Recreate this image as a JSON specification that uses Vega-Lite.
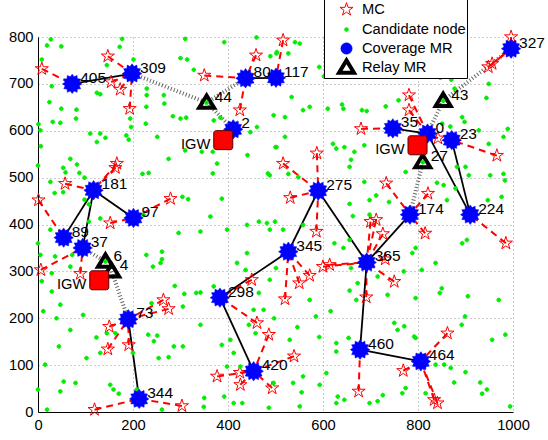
{
  "$schema": "https://vega.github.io/schema/vega-lite/v6.json",
  "width": 475,
  "height": 375,
  "autosize": "none",
  "padding": {"left": 38, "top": 37, "right": 35, "bottom": 28},
  "background": "white",
  "config": {
    "view": {"stroke": null},
    "font": "Liberation Sans",
    "axis": {
      "domainColor": "black", "domainWidth": 1, "ticks": false,
      "labelFontSize": 14.7, "labelColor": "black", "labelFont": "Liberation Sans",
      "labelPadding": 5, "grid": true, "gridColor": "#999999", "gridDash": [1, 3],
      "gridOpacity": 1, "labelFlush": false, "labelOverlap": false, "title": null
    },
    "legend": {
      "padding": 1, "symbolOffset": 10, "labelOffset": 4, "rowPadding": -5,
      "symbolSize": 484, "symbolStrokeWidth": 1,
      "strokeColor": "black", "fillColor": "white", "labelFontSize": 14.7,
      "labelFont": "Liberation Sans", "labelColor": "black", "labelLimit": 300
    }
  },
  "datasets": {
    "nodes": [
      {"x":72,"y":700,"kind":"Coverage MR","label":"405"},
      {"x":198,"y":722,"kind":"Coverage MR","label":"309"},
      {"x":437,"y":712,"kind":"Coverage MR","label":"80"},
      {"x":501,"y":713,"kind":"Coverage MR","label":"117"},
      {"x":411,"y":603,"kind":"Coverage MR","label":"2"},
      {"x":117,"y":473,"kind":"Coverage MR","label":"181"},
      {"x":201,"y":414,"kind":"Coverage MR","label":"97"},
      {"x":54,"y":372,"kind":"Coverage MR","label":"89"},
      {"x":94,"y":350,"kind":"Coverage MR","label":"37"},
      {"x":190,"y":198,"kind":"Coverage MR","label":"73"},
      {"x":213,"y":28,"kind":"Coverage MR","label":"344"},
      {"x":383,"y":244,"kind":"Coverage MR","label":"298"},
      {"x":454,"y":87,"kind":"Coverage MR","label":"420"},
      {"x":527,"y":342,"kind":"Coverage MR","label":"345"},
      {"x":590,"y":472,"kind":"Coverage MR","label":"275"},
      {"x":692,"y":319,"kind":"Coverage MR","label":"365"},
      {"x":678,"y":133,"kind":"Coverage MR","label":"460"},
      {"x":806,"y":108,"kind":"Coverage MR","label":"464"},
      {"x":783,"y":421,"kind":"Coverage MR","label":"174"},
      {"x":910,"y":421,"kind":"Coverage MR","label":"224"},
      {"x":747,"y":605,"kind":"Coverage MR","label":"35"},
      {"x":820,"y":594,"kind":"Coverage MR","label":"0"},
      {"x":871,"y":580,"kind":"Coverage MR","label":"23"},
      {"x":996,"y":775,"kind":"Coverage MR","label":"327"},
      {"x":355,"y":660,"kind":"Relay MR","label":"44"},
      {"x":853,"y":664,"kind":"Relay MR","label":"43"},
      {"x":810,"y":533,"kind":"Relay MR","label":"27"},
      {"x":142,"y":321,"kind":"Relay MR","label":"6"},
      {"x":155,"y":300,"kind":"Relay MR","label":"4"},
      {"x":129,"y":281,"kind":"IGW","label":"IGW"},
      {"x":390,"y":580,"kind":"IGW","label":"IGW"},
      {"x":799,"y":569,"kind":"IGW","label":"IGW"},
      {"x":8,"y":732,"kind":"MC"},{"x":147,"y":759,"kind":"MC"},{"x":154,"y":704,"kind":"MC"},{"x":173,"y":688,"kind":"MC"},
      {"x":193,"y":647,"kind":"MC"},{"x":350,"y":718,"kind":"MC"},{"x":459,"y":761,"kind":"MC"},{"x":425,"y":644,"kind":"MC"},
      {"x":516,"y":793,"kind":"MC"},{"x":996,"y":800,"kind":"MC"},{"x":948,"y":736,"kind":"MC"},{"x":956,"y":743,"kind":"MC"},
      {"x":781,"y":676,"kind":"MC"},{"x":781,"y":644,"kind":"MC"},{"x":680,"y":604,"kind":"MC"},{"x":842,"y":584,"kind":"MC"},
      {"x":966,"y":547,"kind":"MC"},{"x":516,"y":530,"kind":"MC"},{"x":587,"y":552,"kind":"MC"},{"x":531,"y":457,"kind":"MC"},
      {"x":733,"y":488,"kind":"MC"},{"x":821,"y":466,"kind":"MC"},{"x":166,"y":530,"kind":"MC"},{"x":163,"y":521,"kind":"MC"},
      {"x":57,"y":487,"kind":"MC"},{"x":1,"y":452,"kind":"MC"},{"x":279,"y":455,"kind":"MC"},{"x":152,"y":403,"kind":"MC"},
      {"x":6,"y":303,"kind":"MC"},{"x":89,"y":295,"kind":"MC"},{"x":264,"y":239,"kind":"MC"},{"x":275,"y":220,"kind":"MC"},
      {"x":150,"y":182,"kind":"MC"},{"x":147,"y":134,"kind":"MC"},{"x":191,"y":143,"kind":"MC"},{"x":119,"y":5,"kind":"MC"},
      {"x":303,"y":13,"kind":"MC"},{"x":377,"y":76,"kind":"MC"},{"x":425,"y":84,"kind":"MC"},{"x":426,"y":58,"kind":"MC"},
      {"x":461,"y":190,"kind":"MC"},{"x":486,"y":165,"kind":"MC"},{"x":493,"y":51,"kind":"MC"},{"x":539,"y":119,"kind":"MC"},
      {"x":450,"y":282,"kind":"MC"},{"x":520,"y":241,"kind":"MC"},{"x":550,"y":275,"kind":"MC"},{"x":572,"y":291,"kind":"MC"},
      {"x":600,"y":310,"kind":"MC"},{"x":614,"y":314,"kind":"MC"},{"x":586,"y":385,"kind":"MC"},{"x":700,"y":406,"kind":"MC"},
      {"x":712,"y":410,"kind":"MC"},{"x":726,"y":380,"kind":"MC"},{"x":731,"y":326,"kind":"MC"},{"x":750,"y":278,"kind":"MC"},
      {"x":691,"y":245,"kind":"MC"},{"x":815,"y":381,"kind":"MC"},{"x":985,"y":360,"kind":"MC"},{"x":862,"y":168,"kind":"MC"},
      {"x":769,"y":88,"kind":"MC"},{"x":834,"y":26,"kind":"MC"},{"x":841,"y":19,"kind":"MC"},{"x":675,"y":44,"kind":"MC"},
      {"x":27,"y":795,"kind":"Candidate node"},{"x":19,"y":782,"kind":"Candidate node"},{"x":49,"y":780,"kind":"Candidate node"},{"x":177,"y":796,"kind":"Candidate node"},
      {"x":172,"y":779,"kind":"Candidate node"},{"x":201,"y":752,"kind":"Candidate node"},{"x":310,"y":796,"kind":"Candidate node"},{"x":392,"y":789,"kind":"Candidate node"},
      {"x":460,"y":799,"kind":"Candidate node"},{"x":503,"y":768,"kind":"Candidate node"},{"x":489,"y":759,"kind":"Candidate node"},{"x":8,"y":752,"kind":"Candidate node"},
      {"x":300,"y":755,"kind":"Candidate node"},{"x":314,"y":752,"kind":"Candidate node"},{"x":145,"y":740,"kind":"Candidate node"},{"x":328,"y":730,"kind":"Candidate node"},
      {"x":29,"y":695,"kind":"Candidate node"},{"x":124,"y":681,"kind":"Candidate node"},{"x":131,"y":678,"kind":"Candidate node"},{"x":229,"y":690,"kind":"Candidate node"},
      {"x":229,"y":676,"kind":"Candidate node"},{"x":265,"y":676,"kind":"Candidate node"},{"x":266,"y":658,"kind":"Candidate node"},{"x":24,"y":661,"kind":"Candidate node"},
      {"x":49,"y":647,"kind":"Candidate node"},{"x":81,"y":645,"kind":"Candidate node"},{"x":80,"y":626,"kind":"Candidate node"},{"x":1,"y":614,"kind":"Candidate node"},
      {"x":5,"y":601,"kind":"Candidate node"},{"x":31,"y":619,"kind":"Candidate node"},{"x":47,"y":617,"kind":"Candidate node"},{"x":194,"y":626,"kind":"Candidate node"},
      {"x":196,"y":608,"kind":"Candidate node"},{"x":228,"y":651,"kind":"Candidate node"},{"x":227,"y":615,"kind":"Candidate node"},{"x":284,"y":631,"kind":"Candidate node"},
      {"x":300,"y":626,"kind":"Candidate node"},{"x":312,"y":628,"kind":"Candidate node"},{"x":355,"y":660,"kind":"Candidate node"},{"x":370,"y":622,"kind":"Candidate node"},
      {"x":384,"y":628,"kind":"Candidate node"},{"x":110,"y":594,"kind":"Candidate node"},{"x":131,"y":594,"kind":"Candidate node"},{"x":124,"y":576,"kind":"Candidate node"},
      {"x":142,"y":585,"kind":"Candidate node"},{"x":186,"y":590,"kind":"Candidate node"},{"x":191,"y":581,"kind":"Candidate node"},{"x":251,"y":587,"kind":"Candidate node"},
      {"x":310,"y":558,"kind":"Candidate node"},{"x":345,"y":555,"kind":"Candidate node"},{"x":368,"y":555,"kind":"Candidate node"},{"x":377,"y":530,"kind":"Candidate node"},
      {"x":441,"y":548,"kind":"Candidate node"},{"x":461,"y":608,"kind":"Candidate node"},{"x":447,"y":597,"kind":"Candidate node"},{"x":496,"y":633,"kind":"Candidate node"},
      {"x":275,"y":540,"kind":"Candidate node"},{"x":68,"y":540,"kind":"Candidate node"},{"x":82,"y":528,"kind":"Candidate node"},{"x":53,"y":521,"kind":"Candidate node"},
      {"x":58,"y":511,"kind":"Candidate node"},{"x":6,"y":567,"kind":"Candidate node"},{"x":0,"y":526,"kind":"Candidate node"},{"x":26,"y":491,"kind":"Candidate node"},
      {"x":35,"y":467,"kind":"Candidate node"},{"x":53,"y":469,"kind":"Candidate node"},{"x":87,"y":510,"kind":"Candidate node"},{"x":98,"y":500,"kind":"Candidate node"},
      {"x":220,"y":508,"kind":"Candidate node"},{"x":233,"y":510,"kind":"Candidate node"},{"x":304,"y":459,"kind":"Candidate node"},{"x":316,"y":454,"kind":"Candidate node"},
      {"x":387,"y":455,"kind":"Candidate node"},{"x":484,"y":509,"kind":"Candidate node"},{"x":500,"y":565,"kind":"Candidate node"},{"x":98,"y":453,"kind":"Candidate node"},
      {"x":107,"y":443,"kind":"Candidate node"},{"x":368,"y":509,"kind":"Candidate node"},
      {"x":541,"y":789,"kind":"Candidate node"},{"x":551,"y":786,"kind":"Candidate node"},{"x":527,"y":765,"kind":"Candidate node"},{"x":502,"y":765,"kind":"Candidate node"},
      {"x":592,"y":736,"kind":"Candidate node"},{"x":602,"y":716,"kind":"Candidate node"},{"x":652,"y":718,"kind":"Candidate node"},{"x":534,"y":672,"kind":"Candidate node"},
      {"x":558,"y":644,"kind":"Candidate node"},{"x":572,"y":651,"kind":"Candidate node"},{"x":520,"y":629,"kind":"Candidate node"},{"x":610,"y":647,"kind":"Candidate node"},
      {"x":640,"y":656,"kind":"Candidate node"},{"x":643,"y":647,"kind":"Candidate node"},{"x":682,"y":644,"kind":"Candidate node"},{"x":692,"y":642,"kind":"Candidate node"},
      {"x":732,"y":652,"kind":"Candidate node"},{"x":759,"y":665,"kind":"Candidate node"},{"x":847,"y":713,"kind":"Candidate node"},{"x":870,"y":709,"kind":"Candidate node"},
      {"x":877,"y":690,"kind":"Candidate node"},{"x":944,"y":670,"kind":"Candidate node"},{"x":949,"y":700,"kind":"Candidate node"},{"x":851,"y":615,"kind":"Candidate node"},
      {"x":868,"y":609,"kind":"Candidate node"},{"x":898,"y":619,"kind":"Candidate node"},{"x":893,"y":629,"kind":"Candidate node"},{"x":928,"y":601,"kind":"Candidate node"},
      {"x":989,"y":604,"kind":"Candidate node"},{"x":980,"y":587,"kind":"Candidate node"},{"x":949,"y":572,"kind":"Candidate node"},{"x":520,"y":587,"kind":"Candidate node"},
      {"x":502,"y":565,"kind":"Candidate node"},{"x":621,"y":572,"kind":"Candidate node"},{"x":628,"y":562,"kind":"Candidate node"},{"x":645,"y":565,"kind":"Candidate node"},
      {"x":666,"y":555,"kind":"Candidate node"},{"x":687,"y":569,"kind":"Candidate node"},{"x":659,"y":538,"kind":"Candidate node"},{"x":656,"y":523,"kind":"Candidate node"},
      {"x":882,"y":523,"kind":"Candidate node"},{"x":900,"y":523,"kind":"Candidate node"},{"x":907,"y":505,"kind":"Candidate node"},{"x":952,"y":505,"kind":"Candidate node"},
      {"x":980,"y":508,"kind":"Candidate node"},{"x":983,"y":494,"kind":"Candidate node"},{"x":527,"y":508,"kind":"Candidate node"},{"x":548,"y":501,"kind":"Candidate node"},
      {"x":687,"y":491,"kind":"Candidate node"},{"x":712,"y":462,"kind":"Candidate node"},{"x":698,"y":452,"kind":"Candidate node"},{"x":774,"y":512,"kind":"Candidate node"},
      {"x":840,"y":489,"kind":"Candidate node"},{"x":854,"y":484,"kind":"Candidate node"},{"x":861,"y":452,"kind":"Candidate node"},{"x":879,"y":477,"kind":"Candidate node"},
      {"x":947,"y":452,"kind":"Candidate node"},{"x":976,"y":459,"kind":"Candidate node"},{"x":656,"y":444,"kind":"Candidate node"},{"x":739,"y":448,"kind":"Candidate node"},
      {"x":488,"y":505,"kind":"Candidate node"},{"x":853,"y":664,"kind":"Candidate node"},{"x":810,"y":533,"kind":"Candidate node"},{"x":142,"y":321,"kind":"Candidate node"},
      {"x":0,"y":360,"kind":"Candidate node"},{"x":5,"y":335,"kind":"Candidate node"},{"x":8,"y":279,"kind":"Candidate node"},{"x":26,"y":389,"kind":"Candidate node"},
      {"x":36,"y":332,"kind":"Candidate node"},{"x":29,"y":296,"kind":"Candidate node"},{"x":72,"y":335,"kind":"Candidate node"},{"x":68,"y":310,"kind":"Candidate node"},
      {"x":107,"y":406,"kind":"Candidate node"},{"x":131,"y":413,"kind":"Candidate node"},{"x":222,"y":421,"kind":"Candidate node"},{"x":228,"y":335,"kind":"Candidate node"},
      {"x":242,"y":310,"kind":"Candidate node"},{"x":258,"y":318,"kind":"Candidate node"},{"x":261,"y":342,"kind":"Candidate node"},{"x":261,"y":326,"kind":"Candidate node"},
      {"x":296,"y":382,"kind":"Candidate node"},{"x":342,"y":385,"kind":"Candidate node"},{"x":363,"y":417,"kind":"Candidate node"},{"x":398,"y":389,"kind":"Candidate node"},
      {"x":288,"y":269,"kind":"Candidate node"},{"x":308,"y":252,"kind":"Candidate node"},{"x":333,"y":254,"kind":"Candidate node"},{"x":342,"y":255,"kind":"Candidate node"},
      {"x":239,"y":232,"kind":"Candidate node"},{"x":305,"y":225,"kind":"Candidate node"},{"x":342,"y":186,"kind":"Candidate node"},{"x":11,"y":215,"kind":"Candidate node"},
      {"x":39,"y":200,"kind":"Candidate node"},{"x":29,"y":257,"kind":"Candidate node"},{"x":47,"y":229,"kind":"Candidate node"},{"x":95,"y":207,"kind":"Candidate node"},
      {"x":68,"y":175,"kind":"Candidate node"},{"x":123,"y":159,"kind":"Candidate node"},{"x":145,"y":168,"kind":"Candidate node"},{"x":163,"y":168,"kind":"Candidate node"},
      {"x":232,"y":165,"kind":"Candidate node"},{"x":251,"y":163,"kind":"Candidate node"},{"x":244,"y":151,"kind":"Candidate node"},{"x":44,"y":140,"kind":"Candidate node"},
      {"x":102,"y":115,"kind":"Candidate node"},{"x":131,"y":126,"kind":"Candidate node"},{"x":200,"y":126,"kind":"Candidate node"},{"x":286,"y":140,"kind":"Candidate node"},
      {"x":305,"y":140,"kind":"Candidate node"},{"x":254,"y":115,"kind":"Candidate node"},{"x":275,"y":117,"kind":"Candidate node"},{"x":15,"y":101,"kind":"Candidate node"},
      {"x":54,"y":65,"kind":"Candidate node"},{"x":47,"y":44,"kind":"Candidate node"},{"x":79,"y":62,"kind":"Candidate node"},{"x":152,"y":58,"kind":"Candidate node"},
      {"x":159,"y":48,"kind":"Candidate node"},{"x":170,"y":39,"kind":"Candidate node"},{"x":208,"y":48,"kind":"Candidate node"},{"x":0,"y":48,"kind":"Candidate node"},
      {"x":19,"y":5,"kind":"Candidate node"},{"x":261,"y":5,"kind":"Candidate node"},{"x":349,"y":11,"kind":"Candidate node"},{"x":350,"y":30,"kind":"Candidate node"},
      {"x":392,"y":33,"kind":"Candidate node"},{"x":370,"y":268,"kind":"Candidate node"},{"x":419,"y":318,"kind":"Candidate node"},{"x":437,"y":303,"kind":"Candidate node"},
      {"x":440,"y":339,"kind":"Candidate node"},{"x":387,"y":143,"kind":"Candidate node"},{"x":405,"y":154,"kind":"Candidate node"},{"x":412,"y":126,"kind":"Candidate node"},
      {"x":398,"y":97,"kind":"Candidate node"},{"x":426,"y":97,"kind":"Candidate node"},{"x":440,"y":399,"kind":"Candidate node"},{"x":465,"y":406,"kind":"Candidate node"},
      {"x":482,"y":403,"kind":"Candidate node"},{"x":488,"y":389,"kind":"Candidate node"},{"x":465,"y":254,"kind":"Candidate node"},{"x":488,"y":282,"kind":"Candidate node"},
      {"x":454,"y":218,"kind":"Candidate node"},{"x":475,"y":218,"kind":"Candidate node"},{"x":444,"y":186,"kind":"Candidate node"},{"x":458,"y":168,"kind":"Candidate node"},
      {"x":412,"y":19,"kind":"Candidate node"},{"x":430,"y":19,"kind":"Candidate node"},{"x":486,"y":9,"kind":"Candidate node"},{"x":496,"y":62,"kind":"Candidate node"},
      {"x":499,"y":406,"kind":"Candidate node"},{"x":516,"y":389,"kind":"Candidate node"},{"x":558,"y":399,"kind":"Candidate node"},{"x":501,"y":307,"kind":"Candidate node"},
      {"x":572,"y":239,"kind":"Candidate node"},{"x":497,"y":200,"kind":"Candidate node"},{"x":530,"y":154,"kind":"Candidate node"},{"x":546,"y":181,"kind":"Candidate node"},
      {"x":585,"y":204,"kind":"Candidate node"},{"x":592,"y":160,"kind":"Candidate node"},{"x":624,"y":360,"kind":"Candidate node"},{"x":656,"y":367,"kind":"Candidate node"},
      {"x":643,"y":350,"kind":"Candidate node"},{"x":616,"y":215,"kind":"Candidate node"},{"x":656,"y":259,"kind":"Candidate node"},{"x":673,"y":275,"kind":"Candidate node"},
      {"x":670,"y":239,"kind":"Candidate node"},{"x":659,"y":307,"kind":"Candidate node"},{"x":715,"y":289,"kind":"Candidate node"},{"x":736,"y":250,"kind":"Candidate node"},
      {"x":698,"y":421,"kind":"Candidate node"},{"x":663,"y":418,"kind":"Candidate node"},{"x":750,"y":190,"kind":"Candidate node"},{"x":757,"y":175,"kind":"Candidate node"},
      {"x":771,"y":183,"kind":"Candidate node"},{"x":770,"y":300,"kind":"Candidate node"},{"x":788,"y":339,"kind":"Candidate node"},{"x":795,"y":350,"kind":"Candidate node"},
      {"x":808,"y":303,"kind":"Candidate node"},{"x":795,"y":243,"kind":"Candidate node"},{"x":837,"y":318,"kind":"Candidate node"},{"x":850,"y":264,"kind":"Candidate node"},
      {"x":846,"y":254,"kind":"Candidate node"},{"x":893,"y":360,"kind":"Candidate node"},{"x":903,"y":367,"kind":"Candidate node"},{"x":905,"y":247,"kind":"Candidate node"},
      {"x":899,"y":204,"kind":"Candidate node"},{"x":892,"y":186,"kind":"Candidate node"},{"x":970,"y":239,"kind":"Candidate node"},{"x":984,"y":165,"kind":"Candidate node"},
      {"x":956,"y":154,"kind":"Candidate node"},{"x":795,"y":158,"kind":"Candidate node"},{"x":792,"y":161,"kind":"Candidate node"},{"x":654,"y":158,"kind":"Candidate node"},
      {"x":628,"y":147,"kind":"Candidate node"},{"x":628,"y":129,"kind":"Candidate node"},{"x":607,"y":83,"kind":"Candidate node"},{"x":558,"y":76,"kind":"Candidate node"},
      {"x":537,"y":62,"kind":"Candidate node"},{"x":555,"y":42,"kind":"Candidate node"},{"x":593,"y":58,"kind":"Candidate node"},{"x":631,"y":33,"kind":"Candidate node"},
      {"x":628,"y":19,"kind":"Candidate node"},{"x":645,"y":26,"kind":"Candidate node"},{"x":698,"y":19,"kind":"Candidate node"},{"x":715,"y":23,"kind":"Candidate node"},
      {"x":726,"y":36,"kind":"Candidate node"},{"x":767,"y":40,"kind":"Candidate node"},{"x":774,"y":51,"kind":"Candidate node"},{"x":876,"y":63,"kind":"Candidate node"},
      {"x":900,"y":85,"kind":"Candidate node"},{"x":931,"y":63,"kind":"Candidate node"},{"x":935,"y":39,"kind":"Candidate node"},{"x":945,"y":48,"kind":"Candidate node"},
      {"x":994,"y":12,"kind":"Candidate node"},{"x":837,"y":101,"kind":"Candidate node"},{"x":855,"y":101,"kind":"Candidate node"},{"x":869,"y":94,"kind":"Candidate node"},
      {"x":551,"y":12,"kind":"Candidate node"},{"x":816,"y":40,"kind":"Candidate node"}
    ],
    "links": [
      {"x":72,"y":700,"x2":198,"y2":722,"kind":"backbone"},
      {"x":437,"y":712,"x2":501,"y2":713,"kind":"backbone"},
      {"x":117,"y":473,"x2":54,"y2":372,"kind":"backbone"},
      {"x":117,"y":473,"x2":94,"y2":350,"kind":"backbone"},
      {"x":117,"y":473,"x2":201,"y2":414,"kind":"backbone"},
      {"x":747,"y":605,"x2":820,"y2":594,"kind":"backbone"},
      {"x":820,"y":594,"x2":910,"y2":421,"kind":"backbone"},
      {"x":871,"y":580,"x2":910,"y2":421,"kind":"backbone"},
      {"x":590,"y":472,"x2":527,"y2":342,"kind":"backbone"},
      {"x":590,"y":472,"x2":692,"y2":319,"kind":"backbone"},
      {"x":527,"y":342,"x2":383,"y2":244,"kind":"backbone"},
      {"x":692,"y":319,"x2":783,"y2":421,"kind":"backbone"},
      {"x":692,"y":319,"x2":678,"y2":133,"kind":"backbone"},
      {"x":678,"y":133,"x2":806,"y2":108,"kind":"backbone"},
      {"x":383,"y":244,"x2":454,"y2":87,"kind":"backbone"},
      {"x":190,"y":198,"x2":213,"y2":28,"kind":"backbone"},
      {"x":198,"y":722,"x2":355,"y2":660,"kind":"relay"},
      {"x":355,"y":660,"x2":437,"y2":712,"kind":"relay"},
      {"x":355,"y":660,"x2":411,"y2":603,"kind":"relay"},
      {"x":996,"y":775,"x2":853,"y2":664,"kind":"relay"},
      {"x":853,"y":664,"x2":820,"y2":594,"kind":"relay"},
      {"x":810,"y":533,"x2":783,"y2":421,"kind":"relay"},
      {"x":94,"y":350,"x2":142,"y2":321,"kind":"relay"},
      {"x":155,"y":300,"x2":190,"y2":198,"kind":"relay"},
      {"x":8,"y":732,"x2":72,"y2":700,"kind":"access"},
      {"x":147,"y":759,"x2":198,"y2":722,"kind":"access"},
      {"x":154,"y":704,"x2":198,"y2":722,"kind":"access"},
      {"x":173,"y":688,"x2":198,"y2":722,"kind":"access"},
      {"x":193,"y":647,"x2":198,"y2":722,"kind":"access"},
      {"x":350,"y":718,"x2":437,"y2":712,"kind":"access"},
      {"x":459,"y":761,"x2":437,"y2":712,"kind":"access"},
      {"x":425,"y":644,"x2":437,"y2":712,"kind":"access"},
      {"x":516,"y":793,"x2":501,"y2":713,"kind":"access"},
      {"x":996,"y":800,"x2":996,"y2":775,"kind":"access"},
      {"x":948,"y":736,"x2":996,"y2":775,"kind":"access"},
      {"x":956,"y":743,"x2":996,"y2":775,"kind":"access"},
      {"x":781,"y":676,"x2":820,"y2":594,"kind":"access"},
      {"x":781,"y":644,"x2":820,"y2":594,"kind":"access"},
      {"x":680,"y":604,"x2":747,"y2":605,"kind":"access"},
      {"x":842,"y":584,"x2":820,"y2":594,"kind":"access"},
      {"x":966,"y":547,"x2":871,"y2":580,"kind":"access"},
      {"x":516,"y":530,"x2":590,"y2":472,"kind":"access"},
      {"x":587,"y":552,"x2":590,"y2":472,"kind":"access"},
      {"x":531,"y":457,"x2":590,"y2":472,"kind":"access"},
      {"x":733,"y":488,"x2":783,"y2":421,"kind":"access"},
      {"x":821,"y":466,"x2":783,"y2":421,"kind":"access"},
      {"x":166,"y":530,"x2":117,"y2":473,"kind":"access"},
      {"x":163,"y":521,"x2":117,"y2":473,"kind":"access"},
      {"x":57,"y":487,"x2":117,"y2":473,"kind":"access"},
      {"x":1,"y":452,"x2":54,"y2":372,"kind":"access"},
      {"x":279,"y":455,"x2":201,"y2":414,"kind":"access"},
      {"x":152,"y":403,"x2":201,"y2":414,"kind":"access"},
      {"x":6,"y":303,"x2":94,"y2":350,"kind":"access"},
      {"x":89,"y":295,"x2":94,"y2":350,"kind":"access"},
      {"x":264,"y":239,"x2":190,"y2":198,"kind":"access"},
      {"x":275,"y":220,"x2":190,"y2":198,"kind":"access"},
      {"x":150,"y":182,"x2":190,"y2":198,"kind":"access"},
      {"x":147,"y":134,"x2":190,"y2":198,"kind":"access"},
      {"x":191,"y":143,"x2":190,"y2":198,"kind":"access"},
      {"x":119,"y":5,"x2":213,"y2":28,"kind":"access"},
      {"x":303,"y":13,"x2":213,"y2":28,"kind":"access"},
      {"x":377,"y":76,"x2":454,"y2":87,"kind":"access"},
      {"x":425,"y":84,"x2":454,"y2":87,"kind":"access"},
      {"x":426,"y":58,"x2":454,"y2":87,"kind":"access"},
      {"x":461,"y":190,"x2":383,"y2":244,"kind":"access"},
      {"x":486,"y":165,"x2":454,"y2":87,"kind":"access"},
      {"x":493,"y":51,"x2":454,"y2":87,"kind":"access"},
      {"x":539,"y":119,"x2":454,"y2":87,"kind":"access"},
      {"x":450,"y":282,"x2":383,"y2":244,"kind":"access"},
      {"x":520,"y":241,"x2":527,"y2":342,"kind":"access"},
      {"x":550,"y":275,"x2":527,"y2":342,"kind":"access"},
      {"x":572,"y":291,"x2":527,"y2":342,"kind":"access"},
      {"x":600,"y":310,"x2":692,"y2":319,"kind":"access"},
      {"x":614,"y":314,"x2":692,"y2":319,"kind":"access"},
      {"x":586,"y":385,"x2":590,"y2":472,"kind":"access"},
      {"x":700,"y":406,"x2":692,"y2":319,"kind":"access"},
      {"x":712,"y":410,"x2":692,"y2":319,"kind":"access"},
      {"x":726,"y":380,"x2":692,"y2":319,"kind":"access"},
      {"x":731,"y":326,"x2":692,"y2":319,"kind":"access"},
      {"x":750,"y":278,"x2":692,"y2":319,"kind":"access"},
      {"x":691,"y":245,"x2":692,"y2":319,"kind":"access"},
      {"x":815,"y":381,"x2":783,"y2":421,"kind":"access"},
      {"x":985,"y":360,"x2":910,"y2":421,"kind":"access"},
      {"x":862,"y":168,"x2":806,"y2":108,"kind":"access"},
      {"x":769,"y":88,"x2":806,"y2":108,"kind":"access"},
      {"x":834,"y":26,"x2":806,"y2":108,"kind":"access"},
      {"x":841,"y":19,"x2":806,"y2":108,"kind":"access"},
      {"x":675,"y":44,"x2":678,"y2":133,"kind":"access"}
    ]
  },
  "layer": [
    {
      "data": {"name": "links"},
      "transform": [{"filter": "datum.kind === 'relay'"}],
      "mark": {"type": "rule", "color": "#666666", "strokeWidth": 4, "strokeDash": [1, 2.2]},
      "encoding": {
        "x": {"field": "x", "type": "quantitative", "scale": {"domain": [0, 1000], "nice": false}, "axis": {"values": [0, 200, 400, 600, 800, 1000], "format": "d", "title": null}},
        "y": {"field": "y", "type": "quantitative", "scale": {"domain": [0, 800], "nice": false}, "axis": {"values": [0, 100, 200, 300, 400, 500, 600, 700, 800], "format": "d", "title": null}},
        "x2": {"field": "x2"},
        "y2": {"field": "y2"}
      }
    },
    {
      "data": {"name": "links"},
      "transform": [{"filter": "datum.kind === 'access'"}],
      "mark": {"type": "rule", "color": "#ff0000", "strokeWidth": 2, "strokeDash": [7, 5]},
      "encoding": {
        "x": {"field": "x", "type": "quantitative", "scale": {"domain": [0, 1000], "nice": false}},
        "y": {"field": "y", "type": "quantitative", "scale": {"domain": [0, 800], "nice": false}},
        "x2": {"field": "x2"},
        "y2": {"field": "y2"}
      }
    },
    {
      "data": {"name": "links"},
      "transform": [{"filter": "datum.kind === 'backbone'"}],
      "mark": {"type": "rule", "color": "#000000", "strokeWidth": 1.8},
      "encoding": {
        "x": {"field": "x", "type": "quantitative", "scale": {"domain": [0, 1000], "nice": false}},
        "y": {"field": "y", "type": "quantitative", "scale": {"domain": [0, 800], "nice": false}},
        "x2": {"field": "x2"},
        "y2": {"field": "y2"}
      }
    },
    {
      "data": {"name": "nodes"},
      "transform": [{"filter": "datum.kind !== 'IGW'"}],
      "mark": {"type": "point", "opacity": 1, "size": 484, "strokeWidth": 1},
      "encoding": {
        "x": {"field": "x", "type": "quantitative", "scale": {"domain": [0, 1000], "nice": false}},
        "y": {"field": "y", "type": "quantitative", "scale": {"domain": [0, 800], "nice": false}},
        "shape": {"field": "kind", "type": "nominal",
          "scale": {"domain": ["MC", "Candidate node", "Coverage MR", "Relay MR"], "range": [
            "M0,-0.626L0.1405,-0.1934L0.5953,-0.1934L0.2272,0.0739L0.3681,0.5064L0,0.2391L-0.3681,0.5064L-0.2272,0.0739L-0.5953,-0.1934L-0.1405,-0.1934Z",
            "M0.17,0A0.17,0.17 0 1 1 -0.17,0A0.17,0.17 0 1 1 0.17,0Z",
            "M0.5,0A0.5,0.5 0 1 1 -0.5,0A0.5,0.5 0 1 1 0.5,0Z",
            "M0,-1L1,0.65L-1,0.65ZM0,-0.304L-0.36,0.29L0.36,0.29Z"]},
          "legend": {"title": null, "orient": "none", "legendX": 286, "legendY": -40, "labelExpr": "datum.label + '\u00a0\u00a0\u00a0'"}},
        "fill": {"field": "kind", "type": "nominal",
          "scale": {"domain": ["MC", "Candidate node", "Coverage MR", "Relay MR"], "range": ["transparent", "#00ee00", "#0000ff", "#000000"]},
          "legend": {"title": null, "orient": "none", "legendX": 286, "legendY": -40, "labelExpr": "datum.label + '\u00a0\u00a0\u00a0'"}},
        "stroke": {"field": "kind", "type": "nominal",
          "scale": {"domain": ["MC", "Candidate node", "Coverage MR", "Relay MR"], "range": ["#ff0000", "#00ee00", "#0000ff", "transparent"]},
          "legend": {"title": null, "orient": "none", "legendX": 286, "legendY": -40, "labelExpr": "datum.label + '\u00a0\u00a0\u00a0'"}}
      }
    },
    {
      "data": {"name": "nodes"},
      "transform": [{"filter": "datum.kind === 'Coverage MR'"}],
      "mark": {"type": "point", "shape": "M1,0L0.724,0.194L0.866,0.5L0.53,0.53L0.5,0.866L0.194,0.724L0,1L-0.194,0.724L-0.5,0.866L-0.53,0.53L-0.866,0.5L-0.724,0.194L-1,0L-0.724,-0.194L-0.866,-0.5L-0.53,-0.53L-0.5,-0.866L-0.194,-0.724L0,-1L0.194,-0.724L0.5,-0.866L0.53,-0.53L0.866,-0.5L0.724,-0.194Z", "filled": true, "fill": "#0000ff", "stroke": "#0000ff", "strokeWidth": 0.5, "size": 380, "opacity": 1},
      "encoding": {
        "x": {"field": "x", "type": "quantitative", "scale": {"domain": [0, 1000], "nice": false}},
        "y": {"field": "y", "type": "quantitative", "scale": {"domain": [0, 800], "nice": false}}
      }
    },
    {
      "data": {"name": "nodes"},
      "transform": [{"filter": "datum.kind === 'IGW'"}],
      "mark": {"type": "point", "shape": "M-0.75,-1L0.75,-1A0.25,0.25 0 0 1 1,-0.75L1,0.75A0.25,0.25 0 0 1 0.75,1L-0.75,1A0.25,0.25 0 0 1 -1,0.75L-1,-0.75A0.25,0.25 0 0 1 -0.75,-1Z", "filled": true, "fill": "#ff0000", "stroke": "#550000", "strokeWidth": 1, "size": 361, "opacity": 1},
      "encoding": {
        "x": {"field": "x", "type": "quantitative", "scale": {"domain": [0, 1000], "nice": false}},
        "y": {"field": "y", "type": "quantitative", "scale": {"domain": [0, 800], "nice": false}}
      }
    },
    {
      "data": {"name": "nodes"},
      "transform": [{"filter": "datum.kind === 'Coverage MR' || datum.kind === 'Relay MR'"}],
      "mark": {"type": "text", "align": "left", "baseline": "middle", "dx": 8, "dy": -6, "fontSize": 15.5, "font": "Liberation Sans", "color": "#000000"},
      "encoding": {
        "x": {"field": "x", "type": "quantitative", "scale": {"domain": [0, 1000], "nice": false}},
        "y": {"field": "y", "type": "quantitative", "scale": {"domain": [0, 800], "nice": false}},
        "text": {"field": "label"}
      }
    },
    {
      "data": {"name": "nodes"},
      "transform": [{"filter": "datum.kind === 'IGW'"}],
      "mark": {"type": "text", "align": "right", "baseline": "middle", "dx": -13, "dy": 5, "fontSize": 14.7, "font": "Liberation Sans", "color": "#000000"},
      "encoding": {
        "x": {"field": "x", "type": "quantitative", "scale": {"domain": [0, 1000], "nice": false}},
        "y": {"field": "y", "type": "quantitative", "scale": {"domain": [0, 800], "nice": false}},
        "text": {"field": "label"}
      }
    }
  ]
}
